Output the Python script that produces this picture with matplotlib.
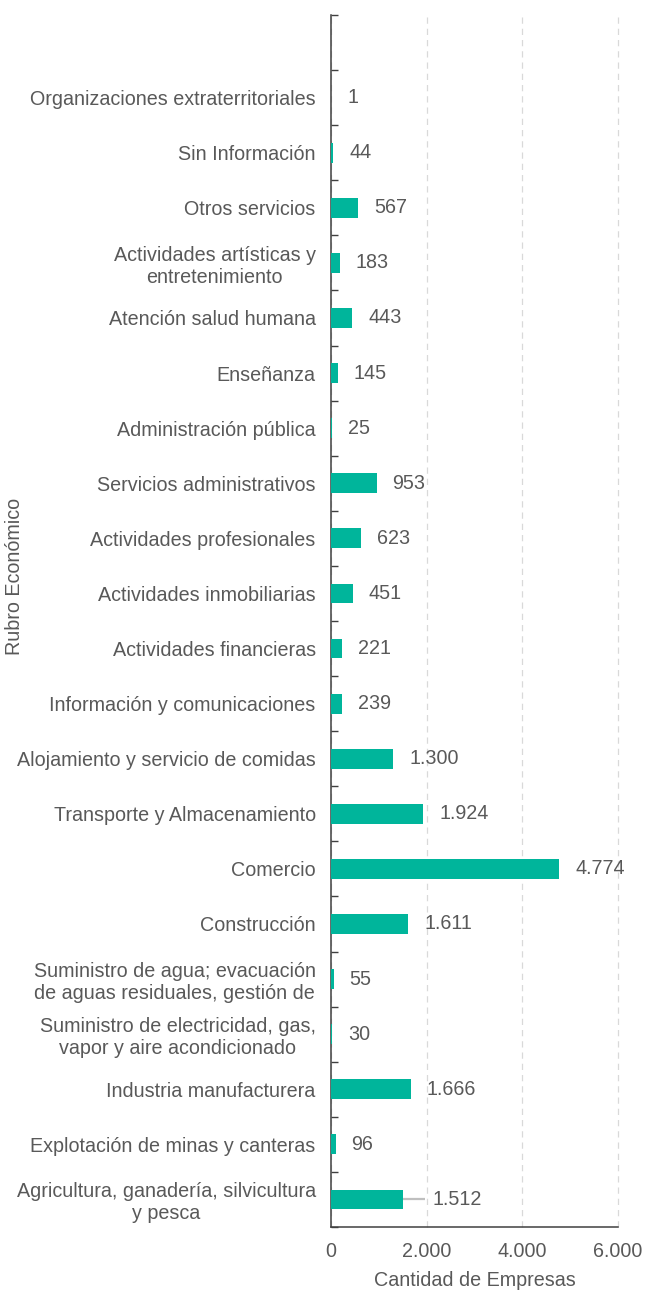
import matplotlib.pyplot as plt
import numpy as np

plt.rcParams['font.family'] = ['Liberation Sans', 'DejaVu Sans']

# bottom to top
rubros = [
    "Agricultura, ganadería, silvicultura\ny pesca",
    "Explotación de minas y canteras",
    "Industria manufacturera",
    "Suministro de electricidad, gas,\nvapor y aire acondicionado",
    "Suministro de agua; evacuación\nde aguas residuales, gestión de",
    "Construcción",
    "Comercio",
    "Transporte y Almacenamiento",
    "Alojamiento y servicio de comidas",
    "Información y comunicaciones",
    "Actividades financieras",
    "Actividades inmobiliarias",
    "Actividades profesionales",
    "Servicios administrativos",
    "Administración pública",
    "Enseñanza",
    "Atención salud humana",
    "Actividades artísticas y\nentretenimiento",
    "Otros servicios",
    "Sin Información",
    "Organizaciones extraterritoriales",
]
empresas = [1512, 96, 1666, 30, 55, 1611, 4774, 1924, 1300, 239, 221, 451,
            623, 953, 25, 145, 443, 183, 567, 44, 1]
# only the first bar carries an error bar (upper side)
err_sup = [450] + [0] * 20

x_ticks = [0, 2000, 4000, 6000]

text_col = "#595959"
bar_col = "#00B59B"
fs = 14.2

fig = plt.figure(figsize=(6.46, 12.91), dpi=100)
ax = fig.add_axes([0.5124, 0.0496, 0.4443, 0.9388])

y = np.arange(len(rubros))
ax.barh(y, empresas, height=0.36, color=bar_col, zorder=3)
ax.errorbar(empresas[0], y[0], xerr=[[0], [err_sup[0]]], fmt='none',
            ecolor="#BFBFBF", elinewidth=1.6, capsize=0, zorder=2)

for yi, v, e in zip(y, empresas, err_sup):
    off = 8 if e else 16
    ax.annotate(f"{v:,}".replace(",", "."), (v + e, yi), xytext=(off, 0),
                textcoords="offset pixels",
                ha="left", va="center", fontsize=fs, color=text_col)

ax.set_xlim(0, 6000)
ax.set_ylim(-0.5, len(rubros) + 0.5)
ax.set_xticks(x_ticks)
ax.set_xticklabels([f"{t:,}".replace(",", ".") for t in x_ticks])
ax.tick_params(axis='x', length=0, pad=11, labelsize=fs, labelcolor=text_col)

# boundary ticks as major, category labels as minor
ax.set_yticks(np.arange(-0.5, len(rubros) + 1, 1.0))
ax.set_yticklabels([])
ax.set_yticks(y, minor=True)
ax.set_yticklabels(rubros, minor=True, fontsize=fs, color=text_col,
                   ha="right", multialignment="center")
ax.tick_params(axis='y', which='major', direction='in', length=5,
               color="#404040", width=1)
ax.tick_params(axis='y', which='minor', length=0, pad=11)

ax.grid(axis='x', color="#D9D9D9", linestyle=(0, (5, 4)), linewidth=0.9, zorder=0)
for gl in ax.get_xgridlines():
    gl.set_clip_on(False)

for s in ["top", "right"]:
    ax.spines[s].set_visible(False)
ax.spines["left"].set_color("#404040")
ax.spines["bottom"].set_color("#404040")
ax.spines["left"].set_linewidth(1.1)
ax.spines["bottom"].set_linewidth(1.1)

ax.set_xlabel("Cantidad de Empresas", fontsize=fs, color=text_col, labelpad=7)
ax.set_ylabel("Rubro Económico", fontsize=fs, color=text_col)
ax.yaxis.set_label_coords(-1.07, 0.537)

fig.savefig("out.png", dpi=100)
